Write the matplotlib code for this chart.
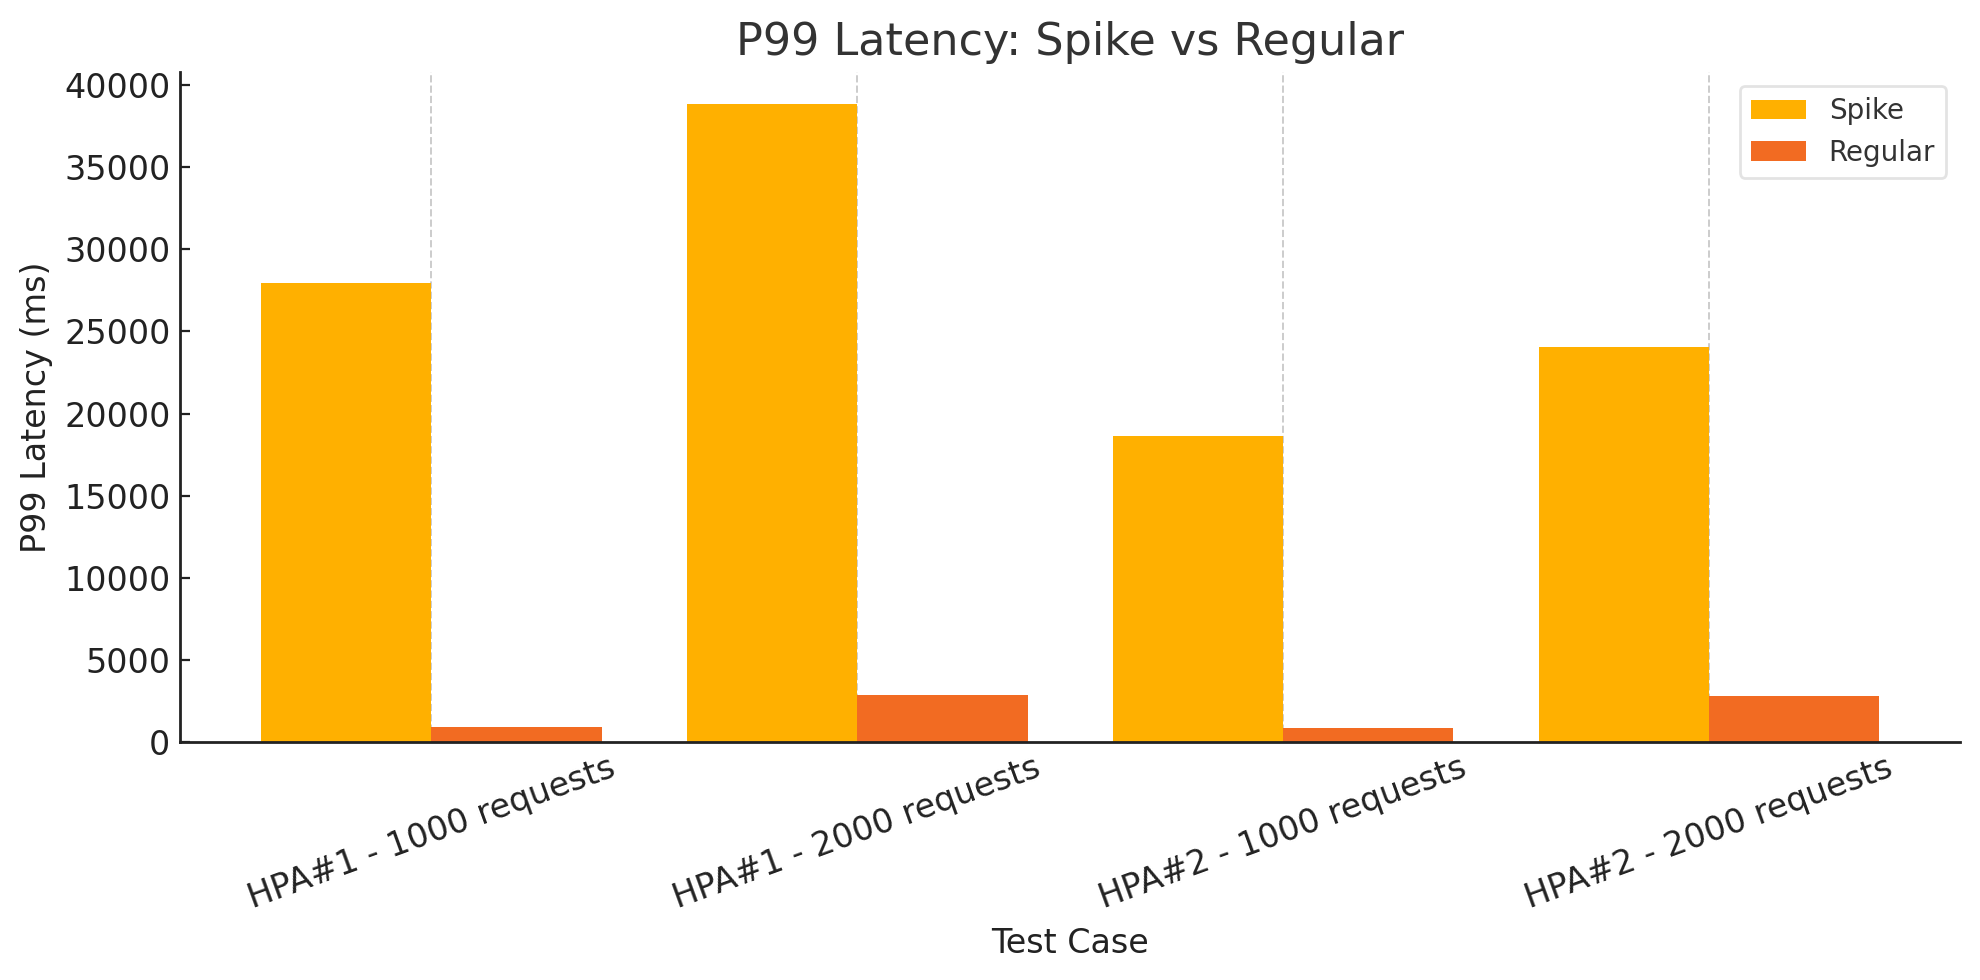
import matplotlib
matplotlib.use("Agg")
import matplotlib.pyplot as plt
import numpy as np

categories = ["HPA#1 - 1000 requests", "HPA#1 - 2000 requests",
              "HPA#2 - 1000 requests", "HPA#2 - 2000 requests"]
spike = [27930, 38860, 18660, 24030]
regular = [890, 2840, 830, 2780]

spike_color = "#FFB000"
regular_color = "#F26B22"

fig = plt.figure(figsize=(9.9, 4.9), dpi=200)
ax = fig.add_axes([0.091, 0.243, 0.899, 0.6835])

x = np.arange(len(categories))
w = 0.4
ax.bar(x - w / 2, spike, w, color=spike_color, label="Spike", zorder=2)
ax.bar(x + w / 2, regular, w, color=regular_color, label="Regular", zorder=2)

ax.set_xticks(x)
ax.set_xticklabels(categories, rotation=20, ha="center", fontsize=12, color="#222222")
ax.tick_params(axis="both", direction="in", color="#222222")
ax.tick_params(axis="y", labelsize=12, labelcolor="#222222")
ax.set_title("P99 Latency: Spike vs Regular", fontsize=16, color="#333333", pad=6)
ax.set_xlabel("Test Case", fontsize=12, color="#222222")
ax.set_ylabel("P99 Latency (ms)", fontsize=12, color="#222222")

ax.grid(axis="x", linestyle="--", color="#cccccc", linewidth=0.7, zorder=1)
ax.spines["top"].set_visible(False)
ax.spines["right"].set_visible(False)
for s in ("left", "bottom"):
    ax.spines[s].set_color("#222222")
    ax.spines[s].set_linewidth(1.0)

leg = ax.legend(loc="upper right", fontsize=10, frameon=True, fancybox=True,
                borderpad=0.4, handlelength=2.0)
leg.get_frame().set_edgecolor("#dddddd")
for t in leg.get_texts():
    t.set_color("#333333")

fig.savefig("out.png", dpi=200)
